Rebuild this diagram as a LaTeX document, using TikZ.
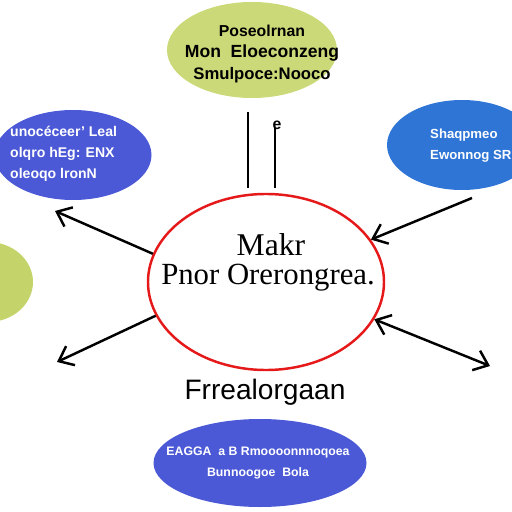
\documentclass[tikz,border=0pt]{standalone}
\usepackage{fontspec}
\setmainfont{Liberation Serif}
\setsansfont{Liberation Sans}
\usetikzlibrary{shapes.geometric,arrows.meta}
\definecolor{leafGreen}{rgb}{0.80, 0.85, 0.47}
\definecolor{oliveGreen}{rgb}{0.77, 0.83, 0.42}
\definecolor{inkBlue}{rgb}{0.30, 0.35, 0.84}
\definecolor{skyBlue}{rgb}{0.18, 0.46, 0.84}
\definecolor{hubRed}{rgb}{0.90, 0.10, 0.10}

\begin{document}
\begin{tikzpicture}[x=0.2mm, y=-0.2mm,
        >={Straight Barb[length=2.6mm, width=4.2mm]},
        bubble/.style={ellipse, inner sep=0pt},
        whitetext/.style={text=white, font=\sffamily\bfseries\fontsize{8}{12}\selectfont, align=left},
        spoke/.style={line width=1.4pt}]
        \useasboundingbox (0,0) rectangle (512,512);

        % hub
        \node[bubble, draw=hubRed, line width=1.4pt, fill=white,
              minimum width=47.2mm, minimum height=35.2mm] (hub) at (266,282) {};
        \node[font=\fontsize{18}{20}\selectfont] (hubTop) at (271,245) {Makr};
        \node[font=\fontsize{17.5}{20}\selectfont] (hubBottom) at (268,278) {Pnor Orerongrea.};

        % green bubbles
        \node[bubble, fill=leafGreen, minimum width=34mm, minimum height=19.2mm] (topIdea) at (252,50) {};
        \node[font=\sffamily\bfseries, align=center] (topText) at (262,54)
              {\fontsize{9}{14}\selectfont Poseolrnan\\
               \fontsize{10}{15}\selectfont Mon\ \ Eloeconzeng\\
               \fontsize{9.5}{14}\selectfont Smulpoce:Nooco};
        \node[bubble, fill=oliveGreen, minimum width=18mm, minimum height=16mm] (leftIdea) at (-12,282) {};

        % blue bubbles
        \node[bubble, fill=inkBlue, minimum width=31.4mm, minimum height=18mm] (leftBlue) at (73,155) {};
        \node[whitetext, anchor=west] (leftText) at (4,154)
              {unocéceer' Leal\\olqro hEg: ENX\\oleoqo lronN};
        \node[bubble, fill=skyBlue, minimum width=30mm, minimum height=18mm] (rightBlue) at (462,145) {};
        \node[whitetext, anchor=west, font=\sffamily\bfseries\fontsize{7.5}{12}\selectfont] (rightText) at (424,146)
              {Shaqpmeo\\ Ewonnog SR};
        \node[bubble, fill=inkBlue, minimum width=42.6mm, minimum height=17.6mm] (bottomBlue) at (260,463) {};
        \node[text=white, align=center, font=\sffamily\bfseries\fontsize{7}{11.5}\selectfont] (bottomText) at (258,463)
              {EAGGA\ \ a B Rmoooonnnoqoea\\Bunnoogoe\ \ Bola};

        % caption under the hub
        \node[font=\sffamily\fontsize{16}{18}\selectfont] (caption) at (265,392) {Frrealorgaan};

        % stems above the hub
        \coordinate (stemA) at (248,112);
        \coordinate (stemAfoot) at (248,188);
        \coordinate (stemB) at (275,128);
        \coordinate (stemBfoot) at (275,188);
        \draw[line width=1.6pt] (stemA) -- (stemAfoot);
        \draw[line width=1.6pt] (stemB) -- (stemBfoot);
        \node[font=\sffamily\bfseries\fontsize{9}{9}\selectfont, anchor=south, inner sep=0pt] (stemHook) at (277,130) {e};

        % arrows
        \coordinate (tipNW) at (55,211);
        \coordinate (tipSW) at (57,362);
        \coordinate (tailNE) at (472,198);
        \coordinate (tipSE) at (490,366);
        \draw[spoke, ->] (hub.166) -- (tipNW);
        \draw[spoke, ->] (hub.197) -- (tipSW);
        \draw[spoke, ->] (tailNE) -- (hub.22);
        \draw[spoke, <->] (hub.-19) -- (tipSE);
\end{tikzpicture}
\end{document}
